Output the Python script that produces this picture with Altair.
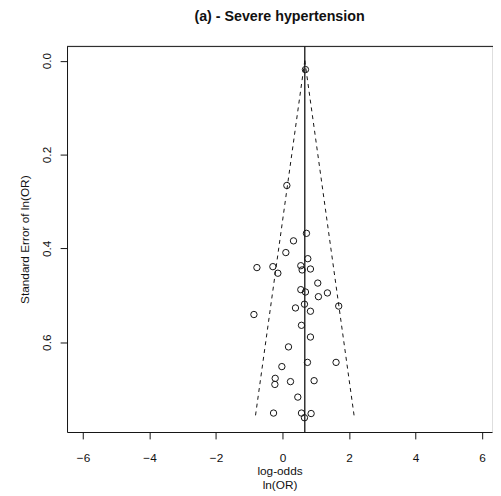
import altair as alt
import pandas as pd

# ---- data ----
log_or = [0.69, 0.13, 0.72, 0.33, 0.10, 0.76, -0.77, -0.29, 0.55, 0.59, 0.84,
          -0.14, 1.06, 0.55, 0.69, 1.35, 1.08, 1.69, 0.66, 0.39, 0.84,
          -0.86, 0.57, 0.84, 0.18, 0.75, 1.61, -0.02,
          -0.22, -0.23, 0.24, 0.95, 0.46, -0.27, 0.57, 0.86, 0.66]
se = [0.019, 0.266, 0.368, 0.384, 0.409, 0.422, 0.441, 0.439, 0.437, 0.446, 0.444,
      0.453, 0.474, 0.488, 0.493, 0.495, 0.503, 0.523, 0.519, 0.527, 0.534,
      0.541, 0.564, 0.589, 0.610, 0.643, 0.643, 0.652,
      0.677, 0.690, 0.684, 0.682, 0.717, 0.751, 0.751, 0.752, 0.761]
pooled = 0.67
se_max = 0.761
x_ticks = [-6, -4, -2, 0, 2, 4, 6]
y_ticks = [0.0, 0.2, 0.4, 0.6]
title_text = "(a) - Severe hypertension"
x_title = ["log-odds", "ln(OR)"]
y_title = "Standard Error of ln(OR)"

W, H = 432, 392
xdom = [-6.48, 6.30]
ydom = [-0.0304, 0.7914]
FONT = "Liberation Sans"
INK = "#111111"

pts = pd.DataFrame({"x": log_or, "se": se})
funnel = pd.DataFrame({
    "x": [pooled, pooled],
    "se": [0.0, 0.0],
    "x2": [pooled - 1.96 * se_max, pooled + 1.96 * se_max],
    "se2": [se_max, se_max],
})
center = pd.DataFrame({"x": [pooled], "t": [title_text]})

xscale = alt.Scale(domain=xdom, nice=False, zero=False)
yscale = alt.Scale(domain=ydom, nice=False, zero=False, reverse=True)

xaxis = alt.Axis(values=x_ticks, format="d", title=x_title, grid=False,
                 tickSize=7, labelPadding=14, labelFontSize=12, labelFont=FONT,
                 labelColor=INK, tickColor=INK, domainColor=INK,
                 titleFont=FONT, titleFontSize=12, titleFontWeight="normal",
                 titleColor=INK, titleY=34, titleBaseline="top",
                 titleLineHeight=14.5, titleAlign="center", titleX=W / 2,
                 labelFlush=False, labelOverlap=False)
yaxis = alt.Axis(values=y_ticks, format=".1f", title=y_title, grid=False,
                 tickSize=7, labelPadding=7, labelFontSize=12, labelFont=FONT,
                 labelColor=INK, tickColor=INK, domainColor=INK,
                 labelAngle=270, labelAlign="center", labelBaseline="bottom",
                 titleFont=FONT, titleFontSize=12, titleFontWeight="normal",
                 titleColor=INK, titleAngle=270, titleAlign="center",
                 titleBaseline="middle", titleX=-43, titleY=H / 2,
                 labelFlush=False, labelOverlap=False)

X = alt.X("x:Q", scale=xscale, axis=xaxis)
Y = alt.Y("se:Q", scale=yscale, axis=yaxis)

points = alt.Chart(pts).mark_point(
    shape="circle", filled=False, size=42, strokeWidth=1, color=INK, opacity=1
).encode(x=X, y=Y)

dashes = alt.Chart(funnel).mark_rule(
    strokeDash=[4, 4], color=INK, strokeWidth=1
).encode(x=X, y=Y, x2="x2:Q", y2="se2:Q")

vline = alt.Chart(center).mark_rule(color=INK, strokeWidth=1.3).encode(
    x=X, y=alt.value(0), y2=alt.value(H)
)

topline = alt.Chart(center).mark_rule(color=INK, strokeWidth=1).encode(
    x=alt.value(0), x2=alt.value(W + 1), y=alt.value(0)
)

title = alt.Chart(center).mark_text(
    font=FONT, fontSize=14.5, fontWeight="bold", color=INK,
    align="center", baseline="middle"
).encode(x=alt.value(W / 2), y=alt.value(-30), text="t:N")

chart = alt.layer(points, vline, dashes, topline, title).properties(
    width=W,
    height=H,
    autosize=alt.AutoSizeParams(type="none"),
    padding={"left": 60, "top": 35, "right": 1, "bottom": 60},
).configure_view(stroke=None).configure(background="white")

chart.save("out.html", embed_options={"renderer": "svg", "actions": False})
